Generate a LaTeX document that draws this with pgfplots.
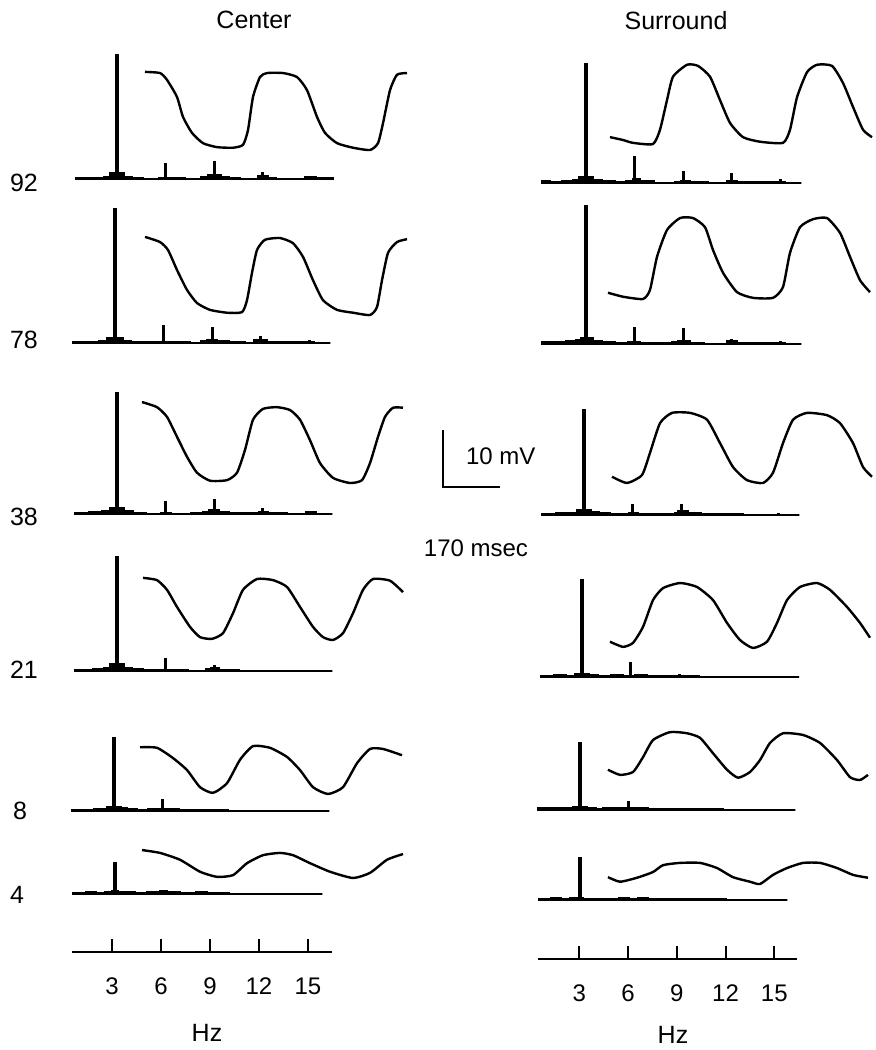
\documentclass[border=0pt]{standalone}
\usepackage{fontspec}
\setmainfont{Liberation Sans}
\usepackage{pgfplots}
\pgfplotsset{compat=1.18}

\pgfplotsset{
  base/.style={hide axis, scale only axis, clip=false, anchor=south west, enlargelimits=false},
  wave/.style={base, x=0.166667pt, y=2.85pt, xmin=0, xmax=810, ymin=0, ymax=15},
  spec/.style={base, x=8.1pt, y=0.5pt, xmin=0, xmax=17, ymin=0, ymax=140},
  trace/.style={black, line width=1.2pt, smooth, tension=0.35, line join=round},
  hzaxis/.style={scale only axis, anchor=south west, y=1pt, ymin=0, ymax=1,
    axis x line=bottom, axis y line=none, axis line style={-, line width=1.1pt, black},
    xtick={3,6,9,12,15}, xtick align=inside, major tick length=6.5pt,
    tick style={line width=1pt, black},
    xticklabel style={font=\fontsize{12}{14}\selectfont, yshift=-9.5pt},
    /pgf/number format/assume math mode=true, clip=false},
}
% waveform: #1 x px of t=0, #2 y px of v=0, #3 data (msec, mV)
\newcommand{\wave}[3]{%
  \begin{axis}[wave, at={({#1*0.5pt},{(1050-#2)*0.5pt})}]
    \addplot[trace] coordinates {#3};
  \end{axis}}
% spectrum: #1 x px of 0 Hz, #2 baseline y px, #3 floor, #4 fundamental, #5 harmonics
\newcommand{\spec}[5]{%
  \begin{axis}[spec, at={({#1*0.5pt},{(1050-#2)*0.5pt})}]
    \addplot[black, fill=black, const plot, line width=1.1pt] coordinates {#3} \closedcycle;
    \addplot[black, ycomb, line width=2.1pt] coordinates {#4};
    \addplot[black, ycomb, line width=1.5pt] coordinates {#5};
  \end{axis}}
\newcommand{\lbl}{\fontsize{12}{14}\selectfont}

\begin{document}
\begin{tikzpicture}
\path[use as bounding box] (0,0) rectangle (437.5pt,525pt);

% titles
\node[font=\fontsize{12.5}{14}\selectfont] at ({254*0.5pt},{(1050-20)*0.5pt}) {Center};
\node[font=\fontsize{12.5}{14}\selectfont] at ({676*0.5pt},{(1050-21)*0.5pt}) {Surround};

% row labels
\node[font=\fontsize{12.5}{14}\selectfont, anchor=west] at ({3*0.5pt},{(1050-183)*0.5pt}) {92};
\node[font=\fontsize{12.5}{14}\selectfont, anchor=west] at ({3*0.5pt},{(1050-340)*0.5pt}) {78};
\node[font=\fontsize{12.5}{14}\selectfont, anchor=west] at ({3*0.5pt},{(1050-517)*0.5pt}) {38};
\node[font=\fontsize{12.5}{14}\selectfont, anchor=west] at ({3*0.5pt},{(1050-670)*0.5pt}) {21};
\node[font=\fontsize{12.5}{14}\selectfont, anchor=west] at ({6*0.5pt},{(1050-811)*0.5pt}) {8};
\node[font=\fontsize{12.5}{14}\selectfont, anchor=west] at ({3*0.5pt},{(1050-895)*0.5pt}) {4};

% ---------------- Center spectra ----------------
\spec{68.4}{179}{(0.5,1)(1.0,0.5)(1.6,1)(2.2,2)(2.6,6)(3.4,2)(3.9,1)(4.6,0)(5.6,1)(6.3,0.5)(7.2,0)(8.2,1.5)(8.6,4)(9.4,2)(9.9,1)(10.6,0)(11.7,3)(12.3,1)(12.8,0)(14.6,2)(15.3,0.5)(16.3,0.5)}{(3,125)}{(6,16)(9,18)(12,7)(15,3)}
\spec{66.4}{343}{(0.4,1)(1.2,1)(2.0,2)(2.5,5)(3.5,2)(4.0,1)(4.8,0.5)(5.7,1)(6.3,0.5)(7.6,0)(8.3,1.5)(8.7,3)(9.3,1.5)(10.0,0.5)(11.0,0)(11.6,3)(12.4,0.5)(14.6,1)(15.3,0)(16.3,0)}{(3,135)}{(6,18)(9,16)(12,7)(15,3)}
\spec{68.4}{514}{(0.4,1)(1.3,1.5)(2.1,2.5)(2.6,6)(3.4,3)(4.0,1)(4.8,0)(5.7,1)(6.3,0)(7.6,0.5)(8.3,2)(8.7,4)(9.3,2)(9.9,1)(10.8,0.5)(11.8,2)(12.3,0.5)(13.5,0)(14.7,1.5)(15.3,0)(16.3,0)}{(3,122)}{(6,13)(9,15)(12,6)(15,2)}
\spec{68.4}{671}{(0.4,1)(1.5,1.5)(2.2,3)(2.6,7)(3.4,3)(3.9,1.5)(4.6,0.5)(5.7,1)(6.3,0.5)(7.4,0)(8.5,1.5)(8.8,2.5)(9.3,1)(10.5,0)(16.3,0)}{(3,115)}{(6,13)(9,6)}
\spec{65.4}{811}{(0.4,1)(1.2,0.5)(1.8,1.5)(2.4,2)(2.6,4)(3.4,3)(3.8,1.5)(4.4,1)(5.1,1.5)(5.8,2)(6.3,1.5)(7.0,1)(7.6,0.5)(8.2,1)(9.0,0.5)(10.0,0)(16.3,0)}{(3,74)}{(6,12)}
\spec{66.4}{894}{(0.4,1)(1.2,1.5)(1.8,1)(2.4,2)(2.8,3)(3.2,2)(3.6,1.5)(4.2,1)(5.0,1.5)(5.8,3)(6.2,1.5)(7.0,1)(8.0,1.5)(8.7,0.5)(10.0,0)(15.8,0)}{(3,32)}{(6,4)}

% ---------------- Surround spectra ----------------
\spec{537.4}{183}{(0.3,1.5)(0.8,1)(1.5,2)(2.2,3)(2.6,6)(3.4,3)(4.0,2)(4.8,1)(5.5,2)(5.9,4)(6.3,1.5)(7.2,0)(8.5,1)(8.9,2)(9.4,1)(10.5,0)(11.7,2)(12.3,0.5)(14.8,1)(15.3,0)(16.3,0)}{(3,120)}{(6,27)(9,12)(12,10)(15,4)}
\spec{537.4}{344}{(0.3,1.5)(1.0,2)(1.8,2.5)(2.4,4)(2.7,6)(3.4,3)(4.0,2)(4.8,1)(5.6,2)(6.3,1)(7.0,0.5)(8.3,1.5)(8.7,3)(9.4,1)(10.3,0)(11.7,2.5)(12.3,0.5)(14.7,1)(15.3,0)(16.3,0)}{(3,139)}{(6,17)(9,16)(12,5)(15,3)}
\spec{535.4}{515}{(0.4,1)(1.3,1.5)(2.2,2)(2.6,5)(3.4,3)(3.9,1.5)(4.6,1)(5.8,2)(6.3,0.5)(7.6,0.5)(8.6,2)(8.8,4)(9.4,1.5)(10.2,1)(11.3,0.5)(12.2,1)(12.8,0)(16.3,0)}{(3,106)}{(6,11)(9,11)(12,2)(15,2)}
\spec{533.4}{677}{(0.5,1)(1.3,1.5)(2.0,1)(2.6,3)(3.4,2)(4.0,1)(4.8,1.5)(5.5,1)(6.3,1.5)(7.0,0.5)(8.4,1)(9.2,0.5)(10.2,0)(16.4,0)}{(3,98)}{(6,15)(9,3)}
\spec{531.4}{810}{(0.4,2)(1.0,1.5)(1.6,2)(2.2,1.5)(2.6,3)(3.4,2)(4.0,1)(4.4,2)(5.0,1.5)(5.7,2)(6.3,1.5)(7.2,1)(8.0,0.5)(9.3,1)(10.5,0.5)(11.8,0)(16.3,0)}{(3,68)}{(6,9)}
\spec{531.4}{900}{(0.5,1)(1.2,1.5)(1.8,1)(2.4,1.5)(3.2,1)(4.0,0.5)(4.8,1)(5.4,1.5)(6.0,1)(6.6,2)(7.2,1)(8.0,0.5)(9.0,1)(10.3,0.5)(12.0,0)(15.8,0)}{(3,43)}{(6,2)}

% ---------------- Center waveforms ----------------
\wave{140}{150}{(15,13.7)(60,13.5)(81,12.3)(111,9.3)(129,5.8)(156,3.0)(189,1.2)(231,0.5)(279,0.4)(309,0.9)(324,3.5)(339,9.3)(360,12.8)(381,13.5)(429,13.5)(471,12.8)(501,10.5)(531,5.8)(555,3.0)(591,1.2)(639,0.4)(690,0.0)(714,1.2)(729,4.7)(750,10.5)(771,13.2)(801,13.5)}
\wave{140}{315}{(15,13.7)(60,12.8)(84,11.4)(111,7.9)(141,4.4)(171,2.1)(210,0.9)(261,0.4)(306,0.5)(321,2.6)(336,7.4)(351,11.4)(375,13.2)(420,13.5)(459,12.6)(489,10.2)(519,6.1)(549,2.6)(591,0.9)(639,0.4)(690,0.0)(711,1.4)(726,6.1)(744,10.9)(771,12.8)(801,13.3)}
\wave{140}{483}{(6,14.2)(51,13.3)(81,11.6)(111,8.1)(141,4.6)(171,1.8)(210,0.4)(261,0.5)(291,1.8)(315,5.8)(339,11.1)(369,13.0)(411,13.3)(450,12.8)(480,11.1)(510,7.5)(540,3.5)(579,0.9)(630,0.0)(666,0.5)(690,3.5)(714,8.1)(735,11.6)(759,13.2)(789,13.2)}
\wave{140}{640}{(9,10.9)(51,10.5)(81,8.8)(111,5.8)(150,2.3)(180,0.5)(216,0.2)(249,1.2)(279,4.7)(309,8.8)(351,10.7)(399,10.5)(441,9.3)(480,5.8)(519,2.3)(549,0.5)(579,0.0)(609,1.2)(639,4.7)(669,8.8)(699,10.7)(750,10.4)(789,8.4)}
\wave{140}{794}{(0,8.2)(51,8.1)(99,6.3)(141,4.2)(180,1.2)(219,0.2)(261,1.9)(300,6.0)(339,8.4)(390,8.1)(441,6.5)(480,4.2)(519,1.2)(564,0.0)(609,1.2)(651,5.4)(690,7.9)(729,7.9)(786,6.8)}
\wave{140}{878}{(6,4.9)(60,4.4)(120,3.2)(180,1.1)(231,0.2)(279,0.5)(321,2.6)(369,4.0)(420,4.4)(459,4.0)(510,2.6)(570,1.1)(639,0.0)(690,0.9)(741,3.2)(789,4.2)}

% ---------------- Surround waveforms ----------------
\wave{605}{144}{(15,1.2)(54,0.7)(84,0.2)(144,0.0)(165,2.5)(186,7.7)(204,11.8)(246,13.9)(279,13.7)(315,11.8)(345,7.7)(375,3.7)(414,1.2)(465,0.4)(534,0.2)(555,2.5)(576,8.2)(606,12.6)(636,13.9)(681,13.7)(714,10.7)(744,6.5)(774,2.5)(801,1.2)}
\wave{605}{299}{(9,1.1)(54,0.4)(114,0.0)(135,1.6)(156,7.4)(186,12.1)(225,14.2)(264,14.2)(300,12.6)(324,8.6)(354,4.6)(396,1.2)(444,0.2)(504,0.2)(534,2.1)(555,8.1)(585,12.6)(624,14.0)(666,14.2)(705,11.6)(735,7.4)(765,3.3)(795,1.2)}
\wave{605}{483}{(21,1.1)(66,0.0)(111,1.4)(135,5.3)(165,10.5)(201,12.3)(255,12.3)(306,11.1)(345,7.0)(384,2.8)(426,0.5)(474,0.0)(504,1.8)(534,7.0)(564,11.1)(606,12.3)(666,11.9)(705,10.5)(744,7.0)(774,2.8)(801,1.1)}
\wave{605}{648}{(15,1.1)(54,0.2)(84,0.9)(114,3.7)(144,8.4)(174,10.5)(225,11.4)(276,10.7)(324,8.4)(366,4.4)(405,1.4)(444,0.0)(486,1.1)(516,4.4)(546,8.4)(585,10.7)(636,11.4)(675,10.2)(726,7.2)(765,4.4)(795,1.8)}
\wave{605}{780}{(9,1.8)(45,0.9)(84,1.4)(114,4.0)(144,7.0)(195,8.4)(246,8.2)(285,7.4)(324,4.7)(366,1.8)(399,0.4)(435,1.4)(465,3.5)(495,6.5)(534,8.2)(594,7.9)(645,6.5)(696,3.5)(735,0.5)(765,0.0)(789,0.9)}
\wave{605}{884}{(9,1.2)(45,0.4)(96,1.1)(144,2.1)(174,3.3)(225,3.7)(285,3.7)(336,2.8)(384,1.2)(435,0.4)(465,0.0)(504,1.6)(546,2.8)(594,3.7)(645,3.7)(696,2.8)(744,1.6)(789,1.1)}

% ---------------- scale bar: 10 mV, 170 msec ----------------
\begin{axis}[wave, at={({443*0.5pt},{(1050-487)*0.5pt})}]
  \addplot[black, line width=1.1pt] coordinates {(0,10)(0,0)(170,0)};
\end{axis}
\node[font=\lbl, anchor=west] at ({459*0.5pt},{(1050-456)*0.5pt}) {10 mV};
\node[font=\lbl] at ({476*0.5pt},{(1050-548)*0.5pt}) {170 msec};

% ---------------- frequency axes ----------------
\begin{axis}[hzaxis, at={({72*0.5pt},{(1050-952)*0.5pt})}, x=8.165pt, xmin=0.55, xmax=16.47]
  \addplot[draw=none] coordinates {(3,0)(15,0)};
\end{axis}
\begin{axis}[hzaxis, at={({538*0.5pt},{(1050-959)*0.5pt})}, x=8.125pt, xmin=0.46, xmax=16.4]
  \addplot[draw=none] coordinates {(3,0)(15,0)};
\end{axis}
\node[font=\fontsize{12.5}{14}\selectfont] at ({207*0.5pt},{(1050-1033)*0.5pt}) {Hz};
\node[font=\fontsize{12.5}{14}\selectfont] at ({673*0.5pt},{(1050-1035)*0.5pt}) {Hz};
\end{tikzpicture}
\end{document}
